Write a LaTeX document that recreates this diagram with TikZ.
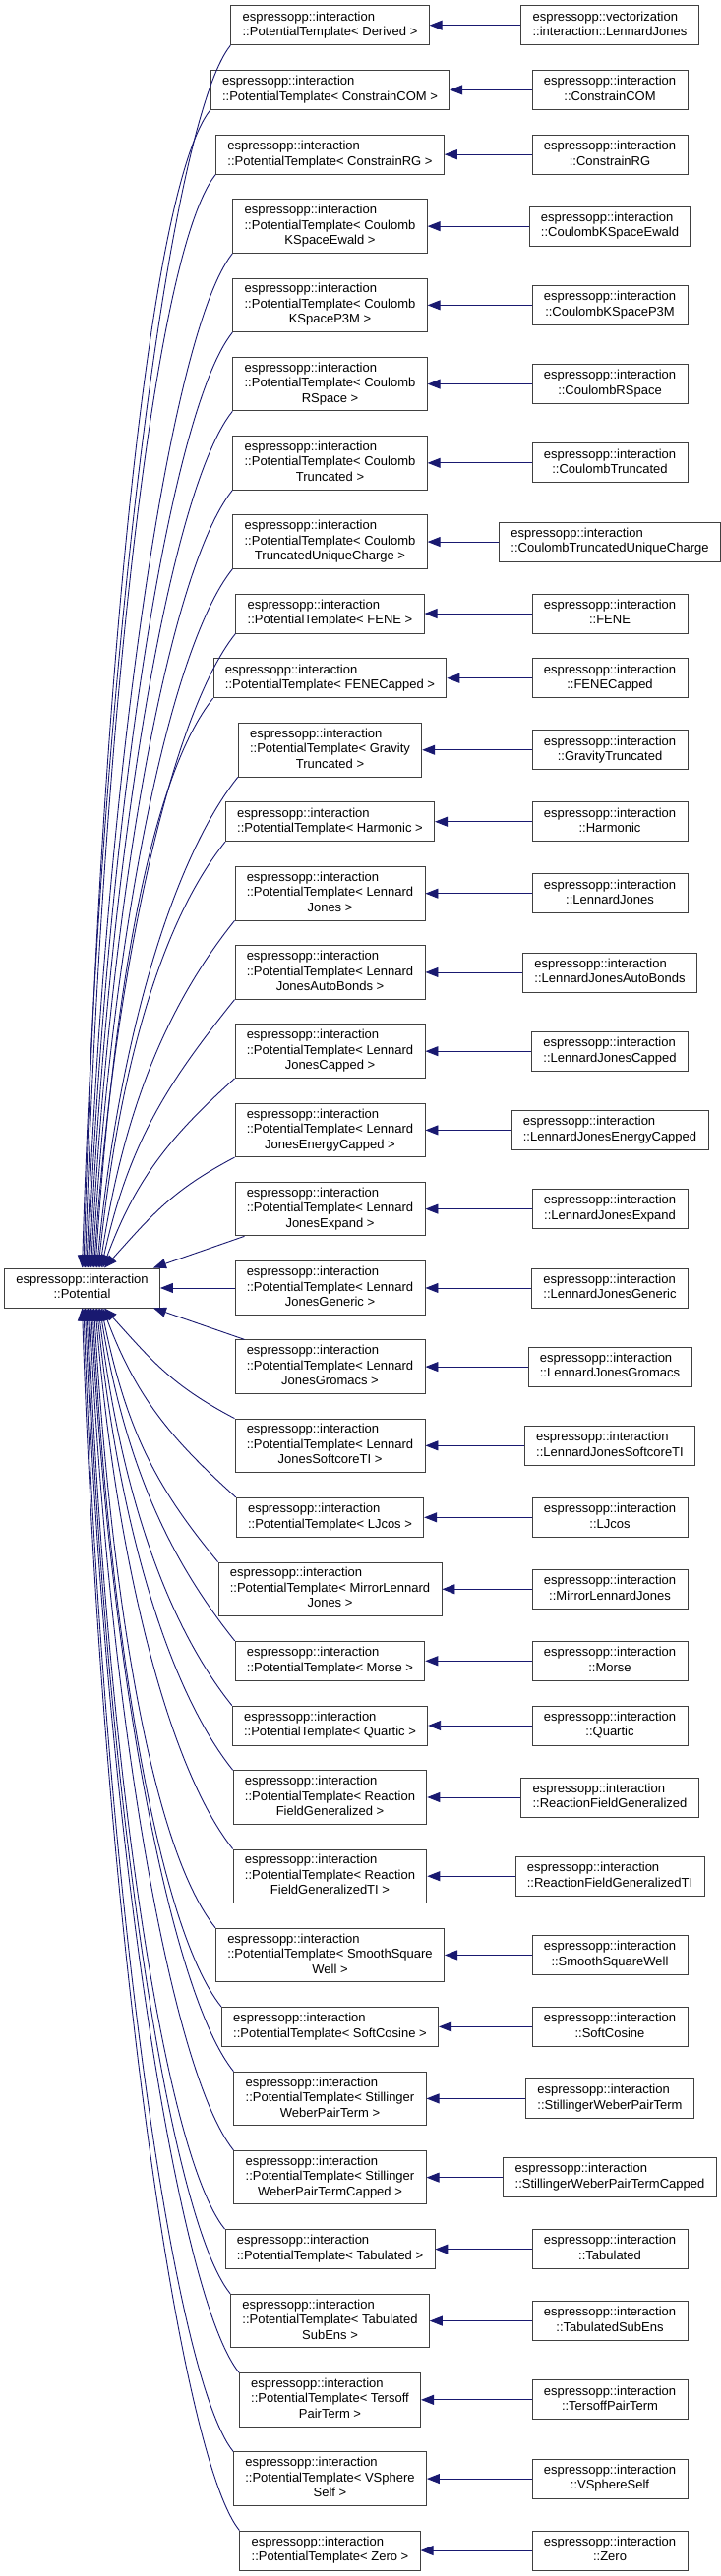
\documentclass[tikz,border=0pt]{standalone}
\usepackage{fontspec}
\setmainfont{Liberation Sans}
\usetikzlibrary{arrows.meta,calc}
\definecolor{midnight}{RGB}{25,25,112}
\definecolor{bordergray}{RGB}{64,64,64}
\newcommand\twol[2]{\begin{tabular}{@{}l@{}}#1\\\multicolumn{1}{@{}c@{}}{#2}\end{tabular}}
\newcommand\threel[3]{\begin{tabular}{@{}l@{}}#1\\#2\\\multicolumn{1}{@{}c@{}}{#3}\end{tabular}}
\newcommand\EI{espressopp::interaction}
\newcommand\PT{::PotentialTemplate< }
% one row: template node, derived node, horizontal inheritance arrow
\newcommand\mkrow[5]{%
  \node[#3] (t#1) at (335.5,-#2) {#4};
  \node[btwo] (r#1) at (620,-#2) {\twol{\EI}{#5}};
  \draw[inh] (r#1) -- (t#1);}
% curved edge from a template above the base class
\newcommand\upedge[2]{%
  \draw[inh] let \p1=(#1.south west), \p2=(pot.north),
    \n1={\y1-\y2}, \n2={\x1-#2pt}, \n3={min(80pt,0.3*\n1)},
    \n4={\n2*(0.1+30pt/\n1)} in
    (\p1) .. controls (\x1-64pt,\y1-\n3) and (#2pt+\n4,\y2+0.48*\n1) .. (#2pt,\y2);}
% curved edge from a template below the base class
\newcommand\downedge[2]{%
  \draw[inh] let \p1=(#1.north west), \p2=(pot.south),
    \n1={\y2-\y1}, \n2={\x1-#2pt}, \n3={min(80pt,0.3*\n1)},
    \n4={\n2*(0.1+30pt/\n1)} in
    (\p1) .. controls (\x1-64pt,\y1+\n3) and (#2pt+\n4,\y2-0.48*\n1) .. (#2pt,\y2);}
\begin{document}
\begin{tikzpicture}[x=1pt,y=1pt,
  box/.style={draw=bordergray, fill=white, line width=0.9pt, inner xsep=11.8pt,
    inner ysep=0pt, font=\fontsize{13pt}{15.5pt}\selectfont},
  btwo/.style={box, minimum height=40pt},
  bthree/.style={box, minimum height=54.5pt},
  inh/.style={draw=midnight, line width=0.9pt, -{Triangle[length=13pt,width=10pt]}}]
\useasboundingbox (0,0) rectangle (733,-2620);

\node[btwo] (pot) at (83.5,-1309.95) {\twol{\EI}{::Potential}};

\node[btwo] (t1) at (335.5,-25.7) {\twol{\EI}{\PT Derived >}};
\node[btwo] (r1) at (620,-25.7) {\twol{espressopp::vectorization}{::interaction::LennardJones}};
\draw[inh] (r1) -- (t1);
\mkrow{2}{91.43}{btwo}{\twol{\EI}{\PT ConstrainCOM >}}{::ConstrainCOM}
\mkrow{3}{157.16}{btwo}{\twol{\EI}{\PT ConstrainRG >}}{::ConstrainRG}
\mkrow{4}{230.14}{bthree}{\threel{\EI}{\PT Coulomb}{KSpaceEwald >}}{::CoulombKSpaceEwald}
\mkrow{5}{310.37}{bthree}{\threel{\EI}{\PT Coulomb}{KSpaceP3M >}}{::CoulombKSpaceP3M}
\mkrow{6}{390.6}{bthree}{\threel{\EI}{\PT Coulomb}{RSpace >}}{::CoulombRSpace}
\mkrow{7}{470.83}{bthree}{\threel{\EI}{\PT Coulomb}{Truncated >}}{::CoulombTruncated}
\mkrow{8}{551.06}{bthree}{\threel{\EI}{\PT Coulomb}{TruncatedUniqueCharge >}}{::CoulombTruncatedUniqueCharge}
\mkrow{9}{624.04}{btwo}{\twol{\EI}{\PT FENE >}}{::FENE}
\mkrow{10}{689.77}{btwo}{\twol{\EI}{\PT FENECapped >}}{::FENECapped}
\mkrow{11}{762.75}{bthree}{\threel{\EI}{\PT Gravity}{Truncated >}}{::GravityTruncated}
\mkrow{12}{835.73}{btwo}{\twol{\EI}{\PT Harmonic >}}{::Harmonic}
\mkrow{13}{908.71}{bthree}{\threel{\EI}{\PT Lennard}{Jones >}}{::LennardJones}
\mkrow{14}{988.94}{bthree}{\threel{\EI}{\PT Lennard}{JonesAutoBonds >}}{::LennardJonesAutoBonds}
\mkrow{15}{1069.17}{bthree}{\threel{\EI}{\PT Lennard}{JonesCapped >}}{::LennardJonesCapped}
\mkrow{16}{1149.4}{bthree}{\threel{\EI}{\PT Lennard}{JonesEnergyCapped >}}{::LennardJonesEnergyCapped}
\mkrow{17}{1229.63}{bthree}{\threel{\EI}{\PT Lennard}{JonesExpand >}}{::LennardJonesExpand}
\mkrow{18}{1309.95}{bthree}{\threel{\EI}{\PT Lennard}{JonesGeneric >}}{::LennardJonesGeneric}
\mkrow{19}{1390.09}{bthree}{\threel{\EI}{\PT Lennard}{JonesGromacs >}}{::LennardJonesGromacs}
\mkrow{20}{1470.32}{bthree}{\threel{\EI}{\PT Lennard}{JonesSoftcoreTI >}}{::LennardJonesSoftcoreTI}
\mkrow{21}{1543.3}{btwo}{\twol{\EI}{\PT LJcos >}}{::LJcos}
\mkrow{22}{1616.28}{bthree}{\threel{\EI}{\PT MirrorLennard}{Jones >}}{::MirrorLennardJones}
\mkrow{23}{1689.26}{btwo}{\twol{\EI}{\PT Morse >}}{::Morse}
\mkrow{24}{1754.99}{btwo}{\twol{\EI}{\PT Quartic >}}{::Quartic}
\mkrow{25}{1827.97}{bthree}{\threel{\EI}{\PT Reaction}{FieldGeneralized >}}{::ReactionFieldGeneralized}
\mkrow{26}{1908.2}{bthree}{\threel{\EI}{\PT Reaction}{FieldGeneralizedTI >}}{::ReactionFieldGeneralizedTI}
\mkrow{27}{1988.43}{bthree}{\threel{\EI}{\PT SmoothSquare}{Well >}}{::SmoothSquareWell}
\mkrow{28}{2061.41}{btwo}{\twol{\EI}{\PT SoftCosine >}}{::SoftCosine}
\mkrow{29}{2134.39}{bthree}{\threel{\EI}{\PT Stillinger}{WeberPairTerm >}}{::StillingerWeberPairTerm}
\mkrow{30}{2214.62}{bthree}{\threel{\EI}{\PT Stillinger}{WeberPairTermCapped >}}{::StillingerWeberPairTermCapped}
\mkrow{31}{2287.6}{btwo}{\twol{\EI}{\PT Tabulated >}}{::Tabulated}
\mkrow{32}{2360.58}{bthree}{\threel{\EI}{\PT Tabulated}{SubEns >}}{::TabulatedSubEns}
\mkrow{33}{2440.81}{bthree}{\threel{\EI}{\PT Tersoff}{PairTerm >}}{::TersoffPairTerm}
\mkrow{34}{2521.04}{bthree}{\threel{\EI}{\PT VSphere}{Self >}}{::VSphereSelf}
\mkrow{35}{2594.02}{btwo}{\twol{\EI}{\PT Zero >}}{::Zero}

% edges into the base class
\foreach \i/\xe in {1/83.5,2/85,3/86.5,4/88,5/89.5,6/91,7/92.5,8/94,9/95.5,10/97,11/98.5,12/100,13/101.5,14/103,15/104.5,16/106}
  {\upedge{t\i}{\xe}}
\draw[inh] ([xshift=10pt]t17.south west) -- ([xshift=-7pt]pot.north east);
\draw[inh] (t18) -- (pot);
\draw[inh] ([xshift=10pt]t19.north west) -- ([xshift=-7pt]pot.south east);
\foreach \i/\xe in {20/106,21/104.5,22/103,23/101.5,24/100,25/98.5,26/97,27/95.5,28/94,29/92.5,30/91,31/89.5,32/88,33/86.5,34/85,35/83.5}
  {\downedge{t\i}{\xe}}
\end{tikzpicture}
\end{document}
